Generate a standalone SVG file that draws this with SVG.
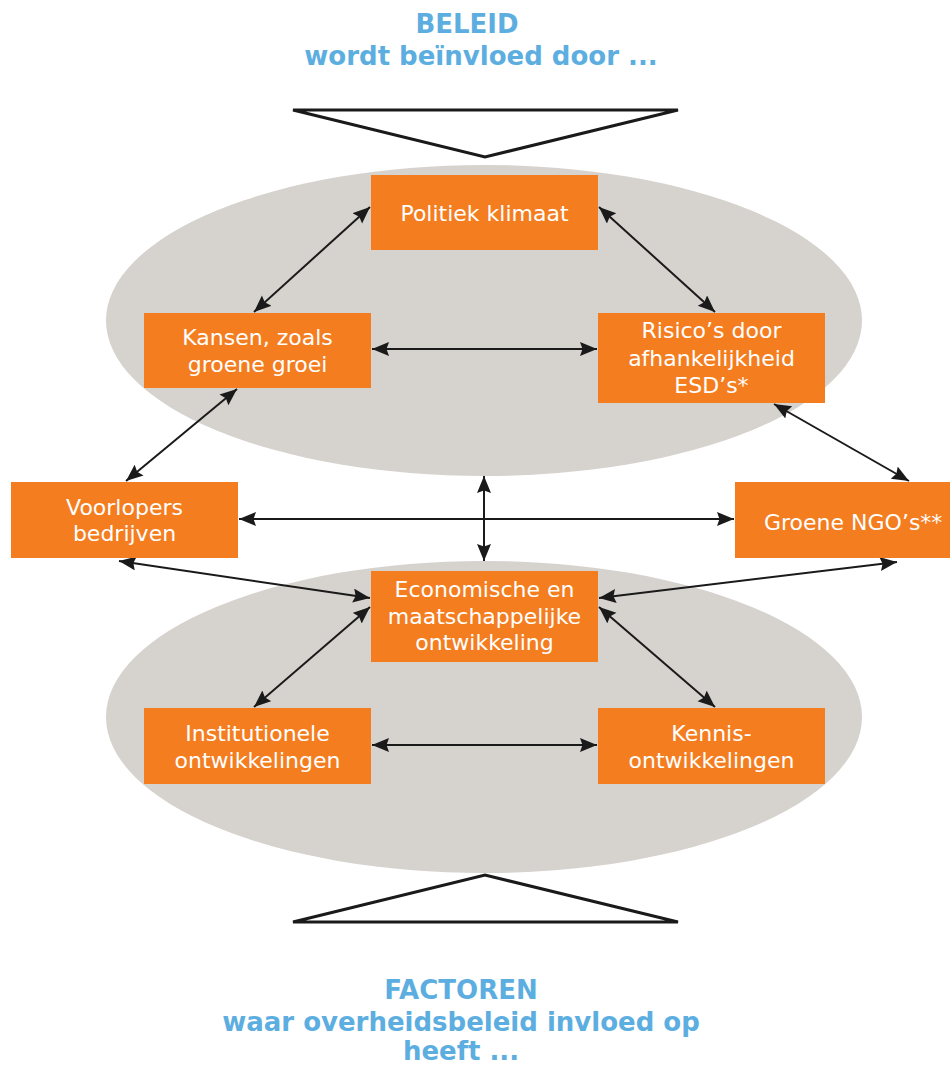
<svg xmlns="http://www.w3.org/2000/svg" width="950" height="1066" viewBox="0 0 950 1066">
<defs>
<style>
.title{font-family:"DejaVu Sans",Verdana,sans-serif;font-weight:bold;font-size:26px;fill:#5DAEE0;text-anchor:middle}
.box{fill:#F47D20}
.lbl{font-family:"DejaVu Sans",Verdana,sans-serif;font-size:22px;fill:#FFFFFF;text-anchor:middle}
.ell{fill:#D6D2CE}
.tri{fill:#FFFFFF;stroke:#1A1A1A;stroke-width:3;stroke-linejoin:miter}
.con{stroke:#1A1A1A;stroke-width:2;fill:none;marker-start:url(#ah);marker-end:url(#ah)}
</style>
<marker id="ah" markerUnits="userSpaceOnUse" markerWidth="18" markerHeight="15" refX="17" refY="7" orient="auto-start-reverse">
<path d="M0,0 L17,7 L0,14 L2.5,7 z" fill="#1A1A1A"/>
</marker>
</defs>
<rect width="950" height="1066" fill="#FFFFFF"/>

<g id="title-top">
<text class="title" x="467" y="33">BELEID</text>
<text class="title" x="481" y="65">wordt beïnvloed door ...</text>
</g>
<g id="triangle-top"><polygon class="tri" points="293,110 678,110 485,157"/></g>

<g id="ellipse-top"><ellipse class="ell" cx="484" cy="320.5" rx="378" ry="155.5"/></g>
<g id="ellipse-bottom"><ellipse class="ell" cx="484" cy="717" rx="378" ry="156"/></g>

<g id="triangle-bottom"><polygon class="tri" points="293,922 678,922 485,875"/></g>
<g id="title-bottom">
<text class="title" x="461" y="999">FACTOREN</text>
<text class="title" x="461" y="1031">waar overheidsbeleid invloed op</text>
<text class="title" x="461" y="1060">heeft ...</text>
</g>

<g id="connectors">
<line class="con" x1="370" y1="207" x2="254" y2="312"/>
<line class="con" x1="599" y1="207" x2="715" y2="312"/>
<line class="con" x1="372" y1="349" x2="597" y2="349"/>
<line class="con" x1="237" y1="389" x2="126" y2="481"/>
<line class="con" x1="774" y1="404" x2="909" y2="481"/>
<line class="con" x1="239" y1="519" x2="734" y2="519"/>
<line class="con" x1="484" y1="476" x2="484" y2="561"/>
<line class="con" x1="119" y1="561" x2="370" y2="598"/>
<line class="con" x1="897" y1="562" x2="599" y2="598"/>
<line class="con" x1="370" y1="607" x2="254" y2="707"/>
<line class="con" x1="599" y1="607" x2="715" y2="707"/>
<line class="con" x1="372" y1="745" x2="597" y2="745"/>
</g>

<g id="node-politiek">
<rect class="box" x="371" y="175" width="227" height="75"/>
<text class="lbl" x="484.5" y="221">Politiek klimaat</text>
</g>
<g id="node-kansen">
<rect class="box" x="144" y="313" width="227" height="75"/>
<text class="lbl" x="257.5" y="345">Kansen, zoals</text>
<text class="lbl" x="257.5" y="372">groene groei</text>
</g>
<g id="node-risico">
<rect class="box" x="598" y="313" width="227" height="90"/>
<text class="lbl" x="711.5" y="338">Risico’s door</text>
<text class="lbl" x="711.5" y="366">afhankelijkheid</text>
<text class="lbl" x="711.5" y="393">ESD’s*</text>
</g>
<g id="node-voorlopers">
<rect class="box" x="11" y="482" width="227" height="76"/>
<text class="lbl" x="124.5" y="515">Voorlopers</text>
<text class="lbl" x="124.5" y="541">bedrijven</text>
</g>
<g id="node-ngo">
<rect class="box" x="735" y="482" width="215" height="76"/>
<text class="lbl" x="764" y="530" style="text-anchor:start">Groene NGO’s**</text>
</g>
<g id="node-economische">
<rect class="box" x="371" y="571" width="227" height="91"/>
<text class="lbl" x="484.5" y="597">Economische en</text>
<text class="lbl" x="484.5" y="624">maatschappelijke</text>
<text class="lbl" x="484.5" y="650">ontwikkeling</text>
</g>
<g id="node-institutionele">
<rect class="box" x="144" y="708" width="227" height="76"/>
<text class="lbl" x="257.5" y="741">Institutionele</text>
<text class="lbl" x="257.5" y="768">ontwikkelingen</text>
</g>
<g id="node-kennis">
<rect class="box" x="598" y="708" width="227" height="76"/>
<text class="lbl" x="711.5" y="741">Kennis-</text>
<text class="lbl" x="711.5" y="768">ontwikkelingen</text>
</g>
</svg>
